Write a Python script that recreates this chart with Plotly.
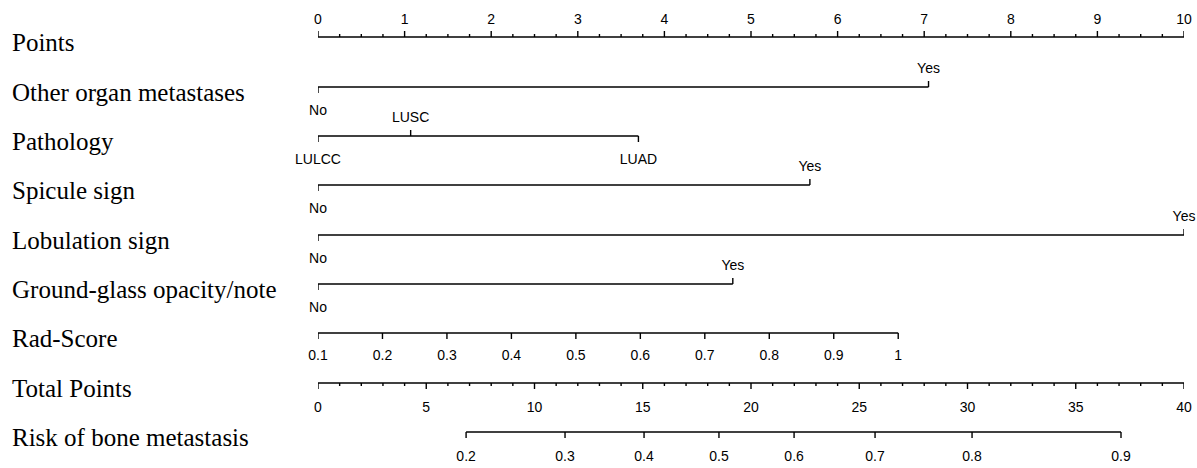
import plotly.graph_objects as go

# ---------------- data ----------------
point_ticks = list(range(0, 11))
row_names = ["Points", "Other organ metastases", "Pathology", "Spicule sign",
             "Lobulation sign", "Ground-glass opacity/note", "Rad-Score",
             "Total Points", "Risk of bone metastasis"]

other_levels = ["No", "Yes"]
other_points = [0.0, 7.05]
other_side = ["below", "above"]

path_levels = ["LULCC", "LUSC", "LUAD"]
path_points = [0.0, 1.07, 3.70]
path_side = ["below", "above", "below"]

spicule_levels = ["No", "Yes"]
spicule_points = [0.0, 5.68]
spicule_side = ["below", "above"]

lobulation_levels = ["No", "Yes"]
lobulation_points = [0.0, 10.0]
lobulation_side = ["below", "above"]

ggo_levels = ["No", "Yes"]
ggo_points = [0.0, 4.79]
ggo_side = ["below", "above"]

rad_ticks = [0.1, 0.2, 0.3, 0.4, 0.5, 0.6, 0.7, 0.8, 0.9, 1.0]
rad_tick_labels = ["0.1", "0.2", "0.3", "0.4", "0.5", "0.6", "0.7", "0.8", "0.9", "1"]
rad_min_value, rad_max_value = 0.1, 1.0
rad_max_points = 6.70

total_ticks = list(range(0, 41, 5))
total_minor = list(range(0, 41, 1))
total_max = 40

risk_ticks = ["0.2", "0.3", "0.4", "0.5", "0.6", "0.7", "0.8", "0.9"]
risk_total_points = [6.84, 11.41, 15.06, 18.52, 21.99, 25.73, 30.21, 37.09]

# ---------------- layout constants ----------------
W, H = 1197, 468
X0_PX, X1_PX = 318, 1184
row_y = [37, 87, 136, 185, 235, 284, 333, 383, 432]
TICK_FONT = dict(family="Liberation Sans, Arial, sans-serif", size=14, color="black")
NAME_FONT = dict(family="Liberation Serif, Times New Roman, serif", size=25, color="black")
LW = 1.4

fig = go.Figure()


def add_lines(xs, ys, width=LW):
    fig.add_trace(go.Scatter(x=xs, y=ys, mode="lines", line=dict(color="black", width=width),
                             hoverinfo="skip", cliponaxis=False))


def add_text(xs, ys, texts, pos="middle center"):
    fig.add_trace(go.Scatter(x=xs, y=ys, mode="text", text=texts, textposition=pos,
                             textfont=TICK_FONT, hoverinfo="skip", cliponaxis=False))


# ---- Points axis (top) ----
y = row_y[0]
add_lines([0, 10], [y, y])
xs, ys = [], []
minor = [i * 0.25 for i in range(0, 41)]
for v in minor:
    ln = 6 if abs(v - round(v)) < 1e-9 else 3
    xs += [v, v, None]
    ys += [y, y - ln, None]
add_lines(xs, ys)
add_text(point_ticks, [y - 17] * len(point_ticks), [str(t) for t in point_ticks])


# ---- categorical rows ----
def cat_row(y, levels, pts, sides):
    add_lines([min(pts), max(pts)], [y, y])
    xs, ys = [], []
    tx, ty, tt = [], [], []
    for lv, p, s in zip(levels, pts, sides):
        d = -6 if s == "above" else 6
        xs += [p, p, None]
        ys += [y, y + d, None]
        tx.append(p)
        ty.append(y - 18 if s == "above" else y + 24)
        tt.append(lv)
    add_lines(xs, ys)
    add_text(tx, ty, tt)


cat_row(row_y[1], other_levels, other_points, other_side)
cat_row(row_y[2], path_levels, path_points, path_side)
cat_row(row_y[3], spicule_levels, spicule_points, spicule_side)
cat_row(row_y[4], lobulation_levels, lobulation_points, lobulation_side)
cat_row(row_y[5], ggo_levels, ggo_points, ggo_side)

# ---- Rad-Score ----
y = row_y[6]
rad_x = [(v - rad_min_value) / (rad_max_value - rad_min_value) * rad_max_points for v in rad_ticks]
add_lines([rad_x[0], rad_x[-1]], [y, y])
xs, ys = [], []
for v in rad_x:
    xs += [v, v, None]
    ys += [y, y + 6, None]
add_lines(xs, ys)
add_text(rad_x, [y + 23] * len(rad_x), rad_tick_labels)

# ---- Total points ----
y = row_y[7]
scale = 10 / total_max
add_lines([0, total_max * scale], [y, y])
xs, ys = [], []
for v in total_minor:
    ln = 6 if v % 5 == 0 else 3
    xs += [v * scale, v * scale, None]
    ys += [y, y + ln, None]
add_lines(xs, ys)
add_text([v * scale for v in total_ticks], [y + 25] * len(total_ticks), [str(t) for t in total_ticks])

# ---- Risk ----
y = row_y[8]
risk_x = [v * scale for v in risk_total_points]
add_lines([risk_x[0], risk_x[-1]], [y, y])
xs, ys = [], []
for v in risk_x:
    xs += [v, v, None]
    ys += [y, y + 6, None]
add_lines(xs, ys)
add_text(risk_x, [y + 25] * len(risk_x), risk_ticks)

# ---- row names ----
for name, yy in zip(row_names, row_y):
    fig.add_annotation(x=10 / W, xref="paper", y=yy + 5, yref="y", text=name, showarrow=False,
                       xanchor="left", yanchor="middle", font=NAME_FONT)

fig.update_layout(
    width=W, height=H, margin=dict(l=0, r=0, t=0, b=0),
    paper_bgcolor="white", plot_bgcolor="white", showlegend=False,
    hovermode=False,
    xaxis=dict(domain=[X0_PX / W, X1_PX / W], range=[0, 10], visible=False, fixedrange=True),
    yaxis=dict(domain=[0, 1], range=[H, 0], visible=False, fixedrange=True),
)

fig.write_html("out.html", config={"displayModeBar": False, "staticPlot": True},
               post_script="document.body.style.margin='0';document.body.style.overflow='hidden';")
